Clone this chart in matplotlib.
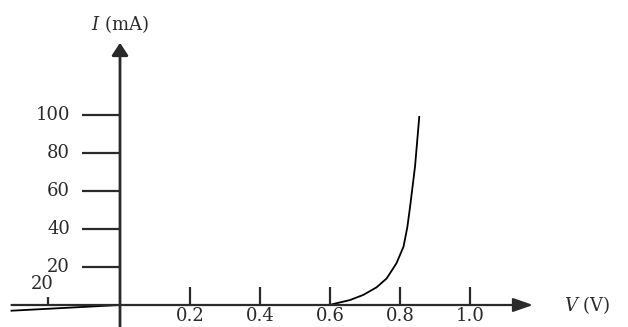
import numpy as np
import matplotlib.pyplot as plt

plt.rcParams['mathtext.fontset'] = 'dejavuserif'

# forward branch of the diode curve (V in volts, I in mA)
V_fwd = [0.600, 0.609, 0.657, 0.695, 0.733, 0.762, 0.790, 0.810, 0.821, 0.829, 0.843, 0.855]
I_fwd = [0.0, 0.5, 2.6, 5.3, 9.3, 14.0, 22.0, 30.7, 41.0, 52.0, 73.0, 99.0]

# reverse branch (small leakage)
V_rev = [0.0, -0.31]
I_rev = [0.0, -3.0]

x_ticks = [0.2, 0.4, 0.6, 0.8, 1.0]
x_labels = ['0.2', '0.4', '0.6', '0.8', '1.0']
y_ticks = [20, 40, 60, 80, 100]
y_labels = ['20', '40', '60', '80', '100']

fig = plt.figure(figsize=(6.28, 3.27), dpi=100)
ax = fig.add_axes([0, 0, 1, 1])
ax.set_xlim(-120/350, 508/350)
ax.set_ylim(-22/1.9, 305/1.9)
ax.axis('off')

ink = '#2a2a2a'
fs = 13

# axes with arrows
ax.annotate('', xy=(1.18, 0), xytext=(-0.31, 0),
            arrowprops=dict(arrowstyle='-|>,head_length=0.8,head_width=0.28',
                            mutation_scale=15, color=ink, lw=1.6,
                            shrinkA=0, shrinkB=0))
ax.annotate('', xy=(0, 138), xytext=(0, -12),
            arrowprops=dict(arrowstyle='-|>,head_length=0.5,head_width=0.33',
                            mutation_scale=15, color=ink, lw=2.0,
                            shrinkA=0, shrinkB=0))

# x ticks (pointing up)
for t, lab in zip(x_ticks, x_labels):
    ax.plot([t, t], [0, 9.5], color=ink, lw=1.6, solid_capstyle='butt')
    ax.text(t, -6.0, lab, ha='center', va='center', fontsize=fs,
            family='DejaVu Serif', color=ink)

# y ticks (pointing left)
for t, lab in zip(y_ticks, y_labels):
    ax.plot([-0.109, 0], [t, t], color=ink, lw=1.6, solid_capstyle='butt')
    ax.text(-0.143, t, lab, ha='right', va='center', fontsize=fs,
            family='DejaVu Serif', color=ink)

# small tick on the negative side
ax.plot([-0.206, -0.206], [0, 4.2], color=ink, lw=1.6, solid_capstyle='butt')
ax.text(-0.222, 11.0, '20', ha='center', va='center', fontsize=fs,
        family='DejaVu Serif', color=ink)

# curves
ax.plot(V_fwd, I_fwd, color='black', lw=1.3)
ax.plot(V_rev, I_rev, color='black', lw=1.3)

# axis labels
ax.text(0, 148, '$I$ (mA)', ha='center', va='center', fontsize=fs,
        family='DejaVu Serif', color=ink)
ax.text(1.335, 0, '$V$ (V)', ha='center', va='center', fontsize=fs,
        family='DejaVu Serif', color=ink)

fig.savefig('out.png', dpi=100)
